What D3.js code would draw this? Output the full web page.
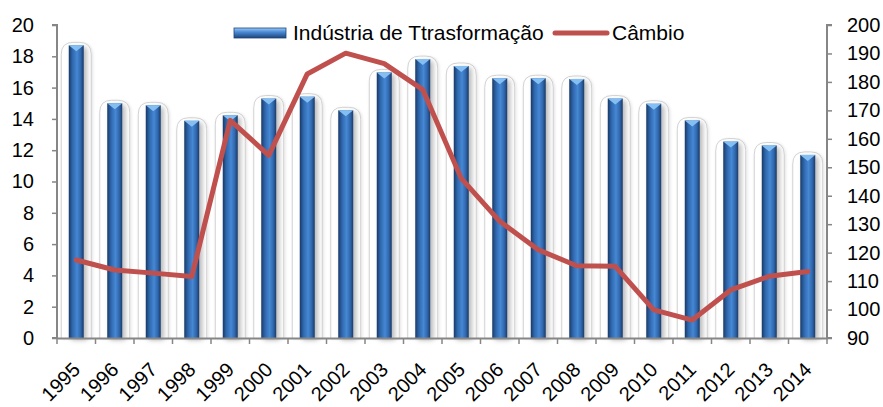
<!DOCTYPE html>
<html><head><meta charset="utf-8">
<script src="https://cdn.jsdelivr.net/npm/d3@7"></script>
<style>
body{margin:0;background:#fff;}
text{font-family:"Liberation Sans",Arial,sans-serif;fill:#000;}
</style></head>
<body><svg id="c" width="883" height="407"></svg>
<script>
const years = ["1995","1996","1997","1998","1999","2000","2001","2002","2003","2004","2005","2006","2007","2008","2009","2010","2011","2012","2013","2014"];
const industria = [18.7,15.0,14.87,13.88,14.23,15.3,15.42,14.55,16.97,17.82,17.38,16.6,16.6,16.55,15.3,14.97,13.9,12.55,12.3,11.7];
const cambio = [117.4,113.9,112.8,111.6,166.5,154.2,182.8,190.1,186.4,177.3,146.1,131.0,121.0,115.4,115.2,99.9,96.3,106.9,111.7,113.4];
const leftTicks = [0,2,4,6,8,10,12,14,16,18,20];
const rightTicks = [90,100,110,120,130,140,150,160,170,180,190,200];
const seriesNames = ["Indústria de Ttrasformação","Câmbio"];

const svg = d3.select("#c");
const L=57, R=827, T=25, B=338;
const FS = 20;
const x = d3.scaleBand().domain(years).range([L,R]);
const yL = d3.scaleLinear().domain([0,20]).range([B,T]);
const yR = d3.scaleLinear().domain([90,200]).range([B,T]);

const defs = svg.append("defs");
const g1 = defs.append("linearGradient").attr("id","barG").attr("x1","0").attr("x2","1").attr("y1","0").attr("y2","0");
[[0,"#1b3a66"],[0.25,"#2f67ad"],[0.55,"#4688d4"],[0.8,"#2f67ad"],[1,"#1b3a66"]].forEach(s=>g1.append("stop").attr("offset",s[0]).attr("stop-color",s[1]));
const g2 = defs.append("linearGradient").attr("id","legG").attr("x1","0").attr("x2","0").attr("y1","0").attr("y2","1");
[[0,"#9ccaf5"],[0.4,"#4a8ad6"],[1,"#1d4479"]].forEach(s=>g2.append("stop").attr("offset",s[0]).attr("stop-color",s[1]));
const f = defs.append("filter").attr("id","sh").attr("x","-50%").attr("y","-10%").attr("width","200%").attr("height","130%");
f.append("feDropShadow").attr("dx",3).attr("dy",2).attr("stdDeviation",2.5).attr("flood-color","#000").attr("flood-opacity",0.28);
const f2 = defs.append("filter").attr("id","sh2").attr("x","-50%").attr("y","-10%").attr("width","200%").attr("height","130%");
f2.append("feDropShadow").attr("dx",1).attr("dy",1).attr("stdDeviation",1.5).attr("flood-color","#000").attr("flood-opacity",0.12);

const bw = 15, bgw = 30, rr = 12;
const cx = d => x(d) + x.bandwidth()/2;

// background rounded frames
svg.append("g").selectAll("path").data(years).join("path")
  .attr("d",(d,i)=>{
    const x0 = cx(d)-bgw/2, x1 = cx(d)+bgw/2, y0 = yL(industria[i])-3;
    return `M${x0},${B} L${x0},${y0+rr} Q${x0},${y0} ${x0+rr},${y0} L${x1-rr},${y0} Q${x1},${y0} ${x1},${y0+rr} L${x1},${B}`;
  })
  .attr("fill","#fff").attr("stroke","#c8c8c8").attr("stroke-width",0.8).attr("filter","url(#sh2)");

// bars
svg.append("g").selectAll("rect").data(years).join("rect")
  .attr("x",d=>cx(d)-bw/2).attr("width",bw)
  .attr("y",(d,i)=>yL(industria[i])).attr("height",(d,i)=>B-yL(industria[i]))
  .attr("fill","url(#barG)").attr("filter","url(#sh)");
// top bevel
svg.append("g").selectAll("path").data(years).join("path")
  .attr("d",(d,i)=>{
    const x0=cx(d)-bw/2, y0=yL(industria[i]);
    return `M${x0},${y0} L${x0+bw},${y0} L${cx(d)},${y0+6} Z`;
  }).attr("fill","#85bff2");

// line
svg.append("path").datum(cambio)
  .attr("d",d3.line().x((d,i)=>cx(years[i])).y(d=>yR(d)))
  .attr("fill","none").attr("stroke","#c0504d").attr("stroke-width",5).attr("stroke-linejoin","round").attr("stroke-linecap","round");

// axes
const axColor="#868686";
const ga = svg.append("g").attr("transform",`translate(${L},0)`).call(d3.axisLeft(yL).tickValues(leftTicks).tickSize(5).tickPadding(18));
const gb = svg.append("g").attr("transform",`translate(${R},0)`).call(d3.axisRight(yR).tickValues(rightTicks).tickSize(5).tickPadding(15));
const gx = svg.append("g").attr("transform",`translate(0,${B})`).call(d3.axisBottom(x).tickSize(0).tickFormat(""));
[ga,gb,gx].forEach(g=>{
  g.select(".domain").attr("stroke",axColor).attr("stroke-width",2);
  g.selectAll(".tick line").attr("stroke",axColor).attr("stroke-width",1.5);
  g.selectAll(".tick text").attr("font-size",FS).attr("font-family","Liberation Sans, Arial, sans-serif").attr("fill","#000");
});
gb.select(".domain").attr("d",`M5,${T}H0V${B}H5`);
ga.select(".domain").attr("d",`M-5,${T}H0V${B}H-5`);
// category boundary ticks
svg.append("g").selectAll("line").data(d3.range(years.length+1)).join("line")
  .attr("x1",i=>L+i*x.step()).attr("x2",i=>L+i*x.step()).attr("y1",B).attr("y2",B+6)
  .attr("stroke",axColor).attr("stroke-width",1.5);

// x labels
svg.append("g").selectAll("text").data(years).join("text")
  .attr("transform",d=>`translate(${cx(d)+5},${371}) rotate(-45)`)
  .attr("text-anchor","end").attr("font-size",FS).text(d=>d);

// legend
svg.append("rect").attr("x",234).attr("y",28).attr("width",52).attr("height",10).attr("fill","url(#legG)").attr("stroke","#1d4479").attr("stroke-width",0.8);
svg.append("text").attr("x",293).attr("y",40).attr("font-size",21).text(seriesNames[0]);
svg.append("line").attr("x1",555).attr("x2",607).attr("y1",33).attr("y2",33).attr("stroke","#c0504d").attr("stroke-width",5).attr("stroke-linecap","round");
svg.append("text").attr("x",612).attr("y",40).attr("font-size",21).text(seriesNames[1]);
</script></body></html>
